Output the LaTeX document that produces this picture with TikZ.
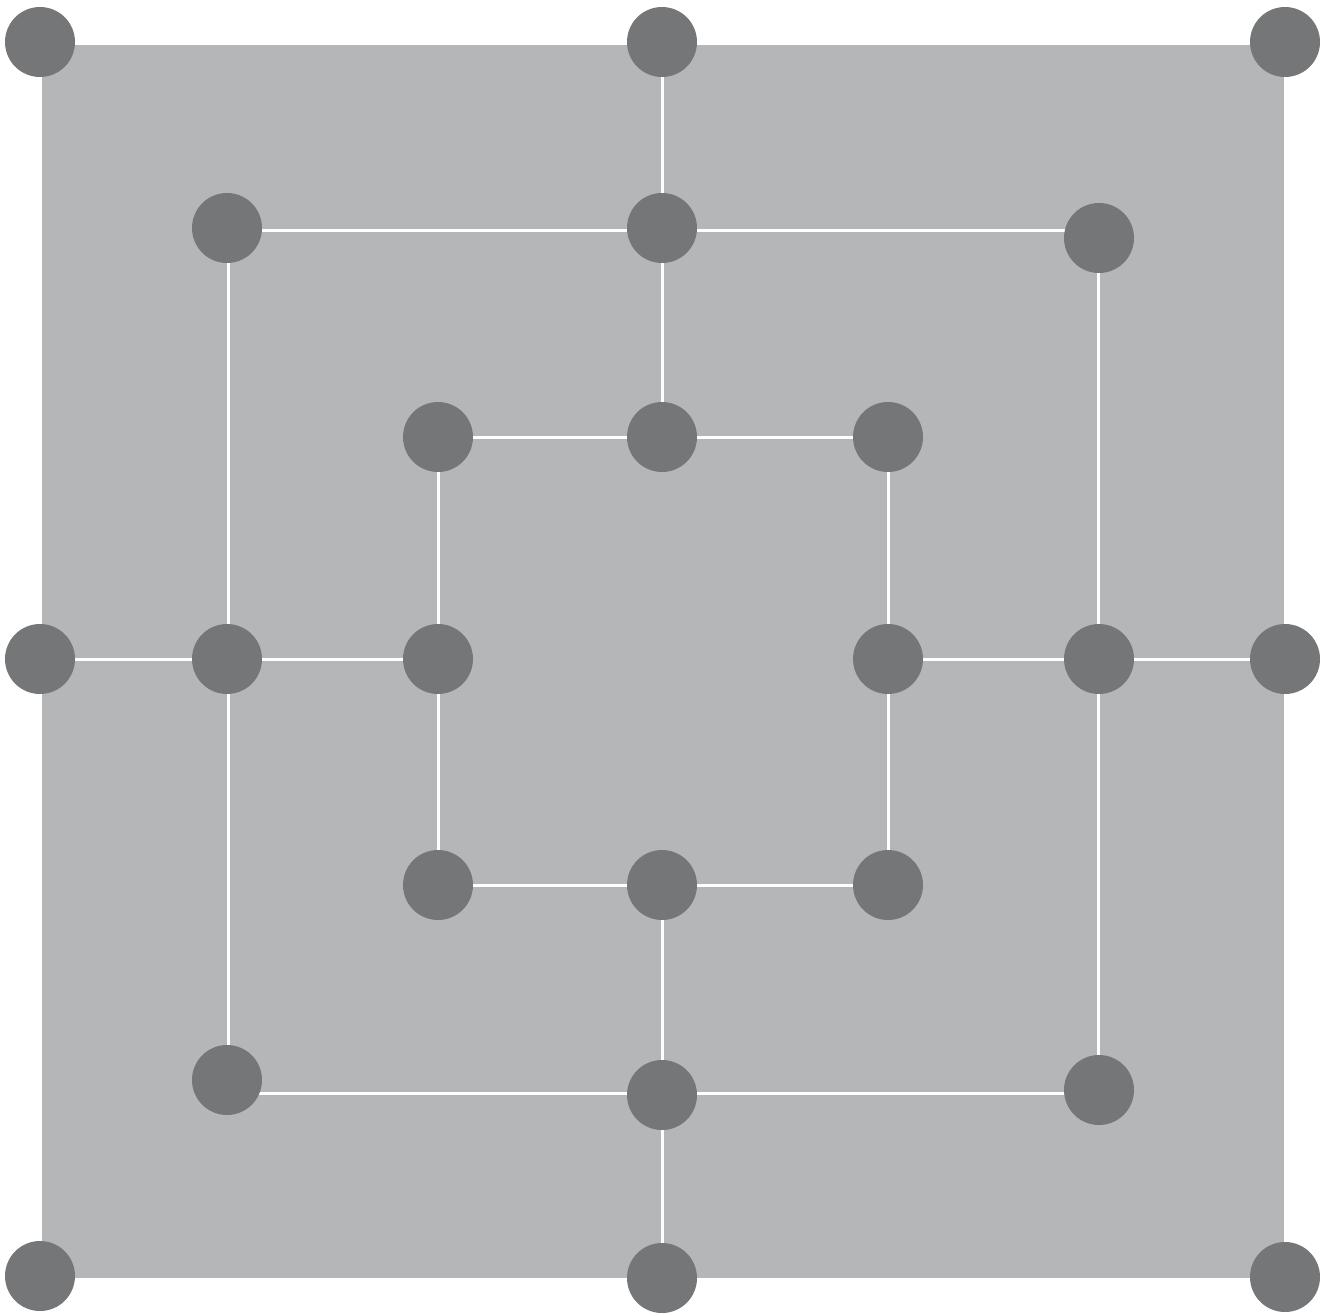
\documentclass[tikz,border=0pt]{standalone}
\usetikzlibrary{backgrounds}
\definecolor{boardgrey}{HTML}{B5B6B8}
\definecolor{dotgrey}{HTML}{757678}
\begin{document}
\begin{tikzpicture}[x=1pt,y=-1pt,
  dot/.style={circle,fill=dotgrey,draw=none,minimum size=70pt,inner sep=0pt},
  wline/.style={draw=white,line width=3pt}]
\useasboundingbox (0,0) rectangle (1330,1314);
% outer
\node[dot] (o1) at (40,42) {};
\node[dot] (o2) at (662,42) {};
\node[dot] (o3) at (1285,42) {};
\node[dot] (o4) at (40,659) {};
\node[dot] (o5) at (1285,659) {};
\node[dot] (o6) at (40,1276) {};
\node[dot] (o7) at (662,1278) {};
\node[dot] (o8) at (1285,1277) {};
% middle
\node[dot] (m1) at (227,228) {};
\node[dot] (m2) at (662,228) {};
\node[dot] (m3) at (1099,238) {};
\node[dot] (m4) at (227,659) {};
\node[dot] (m5) at (1099,659) {};
\node[dot] (m6) at (227,1080) {};
\node[dot] (m7) at (662,1095) {};
\node[dot] (m8) at (1099,1090) {};
% inner
\node[dot] (i1) at (438,437) {};
\node[dot] (i2) at (662,437) {};
\node[dot] (i3) at (888,437) {};
\node[dot] (i4) at (438,659) {};
\node[dot] (i5) at (888,659) {};
\node[dot] (i6) at (438,885) {};
\node[dot] (i7) at (662,885) {};
\node[dot] (i8) at (888,885) {};
\coordinate (topy) at (0,230);
\coordinate (boty) at (0,1093);
\coordinate (lx) at (228,0);
\coordinate (rx) at (1098,0);
\begin{scope}[on background layer]
\fill[boardgrey] (42,45) rectangle (1284,1278);
% cross lines
\draw[wline] (o2.center) -- (m2.center) -- (i2.center);
\draw[wline] (i7.center) -- (m7.center) -- (o7.center);
\draw[wline] (o4.center) -- (m4.center) -- (i4.center);
\draw[wline] (i5.center) -- (m5.center) -- (o5.center);
% middle square
\draw[wline] (m1 |- topy) -- (m3 |- topy);
\draw[wline] (lx |- m1) -- (lx |- m6);
\draw[wline] (rx |- m3) -- (rx |- m8);
\draw[wline] (m6 |- boty) -- (m8 |- boty);
% inner square
\draw[wline] (i1.center) -- (i2.center) -- (i3.center) -- (i5.center) -- (i8.center) -- (i7.center) -- (i6.center) -- (i4.center) -- cycle;
\end{scope}
\end{tikzpicture}
\end{document}
